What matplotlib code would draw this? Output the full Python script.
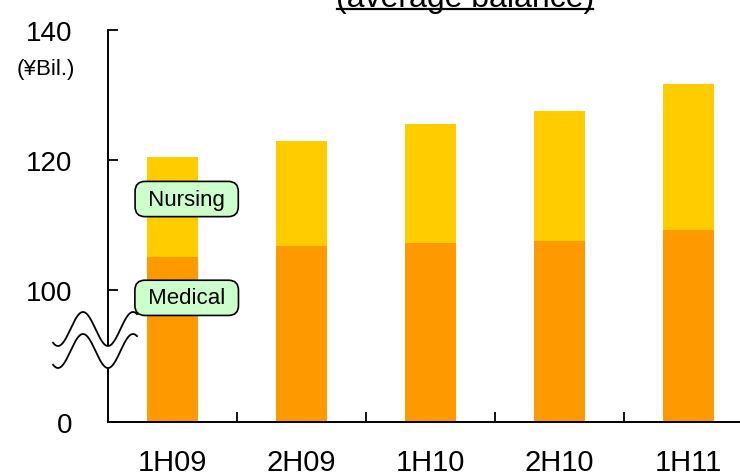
import matplotlib.pyplot as plt
import numpy as np
from matplotlib.patches import Polygon

plt.rcParams['font.family'] = ['Liberation Sans', 'DejaVu Sans']

# Half-year periods and average balances (yen, billions)
periods = ["1H09", "2H09", "1H10", "2H10", "1H11"]
medical = [105.1, 106.7, 107.3, 107.5, 109.2]
nursing = [15.3, 16.2, 18.2, 20.0, 22.5]

y_ticks = [100, 120, 140]
y_floor = 79.7  # bottom of the broken axis, shown as "0"

fig = plt.figure(figsize=(7.4, 4.77), dpi=100)
ax = fig.add_axes([108 / 740, 54 / 477, 1 - 108 / 740, (423 - 31) / 477])

x = np.arange(len(periods))
ax.bar(x, np.array(medical) - y_floor, bottom=y_floor, width=0.4,
       color="#FF9900", zorder=2)
ax.bar(x, nursing, bottom=medical, width=0.4, color="#FFCC00", zorder=2)

ax.set_xlim(-0.5, 4.4)
ax.set_ylim(y_floor, 140)

ax.set_yticks([y_floor] + y_ticks)
ax.set_yticklabels(["0"] + [str(t) for t in y_ticks])
ax.tick_params(axis="y", direction="in", length=7.5, width=1.3,
               labelsize=20, pad=26)
ax.set_xticks(x)
ax.set_xticklabels(periods)
ax.tick_params(axis="x", which="major", length=0, labelsize=21, pad=19)
ax.set_xticks(x[:-1] + 0.5, minor=True)
ax.tick_params(axis="x", which="minor", direction="in", length=7.5, width=1.3)

for side in ("top", "right"):
    ax.spines[side].set_visible(False)
for side in ("left", "bottom"):
    ax.spines[side].set_linewidth(1.4)

# Series labels
box = dict(boxstyle="round,pad=0.32,rounding_size=0.45", fc="#CCFFCC",
           ec="black", lw=1.2)
ax.text(0.11, 114, " Nursing ", ha="center", va="center", fontsize=16,
        bbox=box, zorder=4)
ax.text(0.11, 98.8, " Medical ", ha="center", va="center", fontsize=16,
        bbox=box, zorder=4)

# Axis break symbol: white band between two wavy lines
px = np.linspace(53, 137, 200)
upper = 330 - 17 * np.cos(2 * np.pi * (px - 83) / 50)
lower = upper + 22
to_fig = lambda xs, ys: np.column_stack([xs / 740, 1 - ys / 477])
band = np.vstack([to_fig(px, upper), to_fig(px[::-1], lower[::-1])])
fig.add_artist(Polygon(band, closed=True, fc="white", ec="none",
                       transform=fig.transFigure, zorder=5))
for ys in (upper, lower):
    pts = to_fig(px, ys)
    fig.add_artist(plt.Line2D(pts[:, 0], pts[:, 1], color="black", lw=1.3,
                              transform=fig.transFigure, zorder=6))

# Unit label and title
fig.text(46 / 740, 1 - 70 / 477, "(¥Bil.)", ha="center", va="center",
         fontsize=16)
fig.text(465 / 740, 1 - 7 / 477, "(average balance)", ha="center",
         va="baseline", fontsize=23)
fig.add_artist(plt.Line2D([337 / 740, 593 / 740], [1 - 10 / 477] * 2,
                          color="black", lw=1.6, transform=fig.transFigure))

fig.savefig("out.png", dpi=100)
